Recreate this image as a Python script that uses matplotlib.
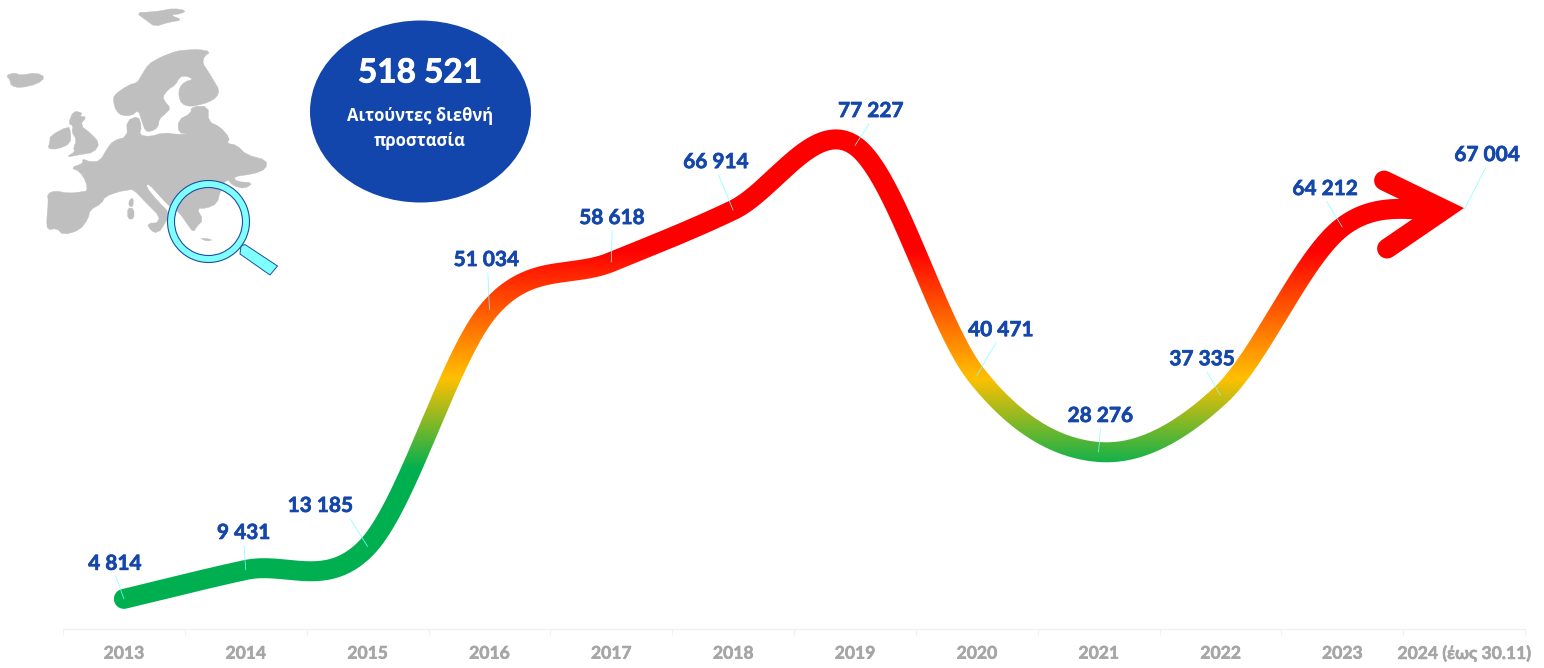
import numpy as np
import matplotlib
matplotlib.use("Agg")
import matplotlib.pyplot as plt
import matplotlib.patheffects as pe
from matplotlib.colors import LinearSegmentedColormap
from matplotlib.lines import Line2D
from matplotlib.patches import Ellipse, Polygon, Wedge
from matplotlib.path import Path
from matplotlib.transforms import IdentityTransform

# ---------- data ----------
years = ["2013", "2014", "2015", "2016", "2017", "2018", "2019", "2020",
         "2021", "2022", "2023", "2024 (έως 30.11)"]
applicants = [4814, 9431, 13185, 51034, 58618, 66914, 77227, 40471,
              28276, 37335, 64212, 67004]
value_labels = ["4 814", "9 431", "13 185", "51 034", "58 618", "66 914",
                "77 227", "40 471", "28 276", "37 335", "64 212", "67 004"]
total_label = "518 521"
total_caption = "Αιτούντες διεθνή\nπροστασία"

# ---------- layout / style ----------
W, H = 1544, 668
LEFT, RIGHT, BASE = 63, 1525, 629
PX_PER_UNIT = 0.00626
LINE_W = 20
LATIN = ["Lato", "Open Sans"]
GREEK = ["Open Sans"]
BLUE = "#1547AB"
GREY = "#A6A6A6"
AXIS = "#F0F0F0"
CYAN = "#7FFFFF"
MAPC = "#BFBFBF"
# offsets (px) from the data point to the label centre, and leader start on the label
LABEL_DX = [-9, -2, -47, -3, 1, -17, 16, 24, 2, -18, -17, 23]
LABEL_DY = [35, 37, 40.5, 49.5, 44, 48, 34.5, 45.5, 36, 36, 38, 54.5]
LABEL_REL = [0.5, 0.5, 0.92, 0.52, 0.5, 0.52, 0.5, 0.45, 0.5, 0.55, 0.5, 0.5]
STOPS_VALUE = [0, 25500, 40000, 60500, 100000]
STOPS_COLOR = ["#00B050", "#00B050", "#FFC000", "#FF0000", "#FF0000"]


def heavy(color, w=0.5):
    return [pe.withStroke(linewidth=w, foreground=color)]


def chaikin(pts, n=1):
    pts = np.asarray(pts, float)
    for _ in range(n):
        nxt = np.roll(pts, -1, axis=0)
        pts = np.column_stack([0.75 * pts + 0.25 * nxt, 0.25 * pts + 0.75 * nxt]).reshape(-1, 2)
    return pts


fig = plt.figure(figsize=(W / 100, H / 100), dpi=100, facecolor="white")
ax = fig.add_axes([LEFT / W, (H - BASE) / H, (RIGHT - LEFT) / W, BASE / H])
ymax = BASE / PX_PER_UNIT
ax.set_xlim(-0.5, len(years) - 0.5)
ax.set_ylim(0, ymax)
ax.patch.set_alpha(0)
for s in ("top", "left", "right"):
    ax.spines[s].set_visible(False)
ax.spines["bottom"].set_color(AXIS)
ax.spines["bottom"].set_linewidth(1.0)
ax.set_yticks([])
x = np.arange(len(years))
ax.set_xticks(np.arange(len(years) + 1) - 0.5)
ax.set_xticklabels([])
ax.tick_params(axis="x", which="major", length=4.5, width=0.8, color=AXIS)
ax.set_xticks(x, minor=True)
ax.set_xticklabels(years, minor=True, family=LATIN, fontweight="bold",
                   fontsize=12.6, color=GREY)
ax.tick_params(axis="x", which="minor", length=0, pad=12)
for t in ax.get_xticklabels(minor=True):
    t.set_path_effects(heavy(GREY, 0.4))

# ---------- smooth curve through the data, in display space ----------
P = ax.transData.transform(np.column_stack([x, applicants]))
T = np.zeros_like(P)
T[1:-1] = (P[2:] - P[:-2]) / 2
T[0] = (P[1] - P[0])
T[-1] = (P[-1] - P[-2])
samples = []
for i in range(len(P) - 1):
    c1, c2 = P[i] + T[i] / 3, P[i + 1] - T[i + 1] / 3
    t = np.linspace(0, 1, 80, endpoint=False)[:, None]
    samples.append((1 - t) ** 3 * P[i] + 3 * (1 - t) ** 2 * t * c1
                   + 3 * (1 - t) * t ** 2 * c2 + t ** 3 * P[i + 1])
C = np.vstack(samples + [P[-1:]])
tip = P[-1]
C = C[C[:, 0] <= tip[0] - 18]
D = np.gradient(C, axis=0)
D /= np.hypot(D[:, 0], D[:, 1])[:, None]
N = np.column_stack([-D[:, 1], D[:, 0]])
a0 = np.arctan2(N[0, 1], N[0, 0])
ang = a0 + np.linspace(0, np.pi, 24)
cap = C[0] + LINE_W / 2 * np.column_stack([np.cos(ang), np.sin(ang)])
outline = np.vstack([(C + N * LINE_W / 2)[::-1], cap[1:-1], (C - N * LINE_W / 2)])
outline = np.vstack([outline, outline[:1]])
stroke = Path(outline)

cmap = LinearSegmentedColormap.from_list(
    "grad", [(v / STOPS_VALUE[-1], c) for v, c in zip(STOPS_VALUE, STOPS_COLOR)], N=512)
g = np.linspace(0, STOPS_VALUE[-1], 1024)[:, None]
im = ax.imshow(g, extent=(-0.5, len(years) - 0.5, 0, STOPS_VALUE[-1]), origin="lower",
               cmap=cmap, vmin=0, vmax=STOPS_VALUE[-1], aspect="auto",
               interpolation="bilinear", zorder=2)
ax.set_xlim(-0.5, len(years) - 0.5)
ax.set_ylim(0, ymax)
im.set_clip_path(stroke, IdentityTransform())

# arrow head
barb_up, barb_dn = tip + [-80, 29], tip + [-77, -39]
apex = tip + [-20, 0]
ax.add_line(Line2D([barb_up[0], apex[0], barb_dn[0]], [barb_up[1], apex[1], barb_dn[1]],
                   transform=IdentityTransform(), color="#FF0000",
                   lw=LINE_W * 0.72, solid_capstyle="round", solid_joinstyle="miter",
                   zorder=3, clip_on=False))

# ---------- value labels with leader lines ----------
for i, (val, lab) in enumerate(zip(applicants, value_labels)):
    ann = ax.annotate(lab, xy=(i, val), xytext=(LABEL_DX[i], LABEL_DY[i]),
                      textcoords="offset pixels", ha="center", va="center",
                      family=LATIN, fontweight="bold", fontsize=15, color=BLUE,
                      annotation_clip=False, zorder=5,
                      arrowprops=dict(arrowstyle="-", color=CYAN, lw=0.5,
                                      relpos=(LABEL_REL[i], 0), shrinkA=0, shrinkB=0))
    ann.set_path_effects(heavy(BLUE, 0.5))
    ann.arrow_patch.set_path_effects([])

# ---------- overlay in pixel coordinates: map, lens, bubble ----------
ov = fig.add_axes([0, 0, 1, 1], zorder=-1)
ov.set_xlim(0, W)
ov.set_ylim(H, 0)
ov.axis("off")

land = [
    [(140,660),(145,605),(142,582),(165,572),(205,580),(250,575),(262,572),(258,545),(240,515),(212,503),
     (250,490),(246,476),(272,486),(300,483),(322,445),(340,422),(382,410),(380,362),(415,348),(425,380),(418,405),
     (450,410),(490,398),(530,403),(565,402),(535,398),(535,360),(572,340),(575,320),(625,318),(625,365),
     (660,380),(690,415),(680,430),(710,435),(740,465),(800,480),(798,507),(760,522),(700,530),(710,545),
     (760,548),(735,566),(700,558),(680,535),(660,575),(652,610),(620,625),(590,625),(610,660),(590,680),
     (580,697),(560,670),(540,640),(510,620),(490,600),(445,550),(438,560),(470,600),(510,640),(495,670),
     (475,700),(445,680),(470,670),(480,650),(440,610),(400,568),(385,570),(355,575),(315,590),(305,610),
     (270,630),(265,655),(240,690),(190,705),(170,685),(142,690)],
    [(342,285),(385,255),(412,248),(425,225),(445,193),(470,178),(490,168),(530,153),(560,150),(595,148),(632,155),
     (612,170),(608,190),(625,215),(640,240),(658,270),(650,292),(625,307),(600,314),(570,320),(546,312),(536,290),
     (538,262),(555,245),(580,238),(560,228),(540,230),(526,255),(505,268),(488,290),(495,305),(512,325),(495,342),
     (478,357),(474,382),(455,394),(436,394),(425,362),(415,330),(395,347),(365,347),(348,332),(340,305)],
    [(205,370),(220,333),(247,338),(240,350),(260,350),(240,375),(272,400),(299,430),(282,457),(240,464),
     (198,472),(225,455),(220,445),(230,420),(215,395),(220,378)],
    [(150,408),(205,378),(212,395),(212,430),(175,447),(143,447),(150,425)],
    [(18,226),(45,218),(60,226),(110,218),(136,232),(112,252),(60,264),(33,257),(30,240)],
    [(408,38),(450,36),(480,33),(520,25),(560,32),(540,42),(510,45),(548,60),(505,67),(465,80),(440,62)],
    [(383,623),(402,626),(402,657),(383,657)],
    [(388,600),(400,593),(399,622),(386,617)],
    [(440,670),(487,668),(472,700),(453,692)],
    [(598,713),(640,719),(620,724)],
]
for poly in land:
    ov.add_patch(Polygon(chaikin(poly) / 3, closed=True, fc=MAPC, ec=MAPC, lw=0.3))

ov.add_patch(Polygon([(241, 246), (245, 244.5), (277.5, 266), (270, 275), (240, 254)], closed=True,
                     fc=CYAN, ec="#1F4E9F", lw=0.7, zorder=3))
ov.add_patch(Wedge((208.5, 221.5), 41, 0, 360, width=7, fc=CYAN, ec="#1F4E9F",
                   lw=0.8, zorder=4))

ov.add_patch(Ellipse((420.5, 111.5), 221, 182, fc="#1346AC", ec="none", zorder=5))
txt = ov.text(420, 73, total_label, ha="center", va="center", family=LATIN,
              fontweight="bold", fontsize=24, color="white", zorder=6)
txt.set_path_effects(heavy("white", 0.6))
ov.text(420, 128.5, total_caption, ha="center", va="center", family=GREEK,
        fontweight="bold", fontsize=12, color="white", linespacing=1.45, zorder=6)

fig.savefig("out.png", dpi=100)
